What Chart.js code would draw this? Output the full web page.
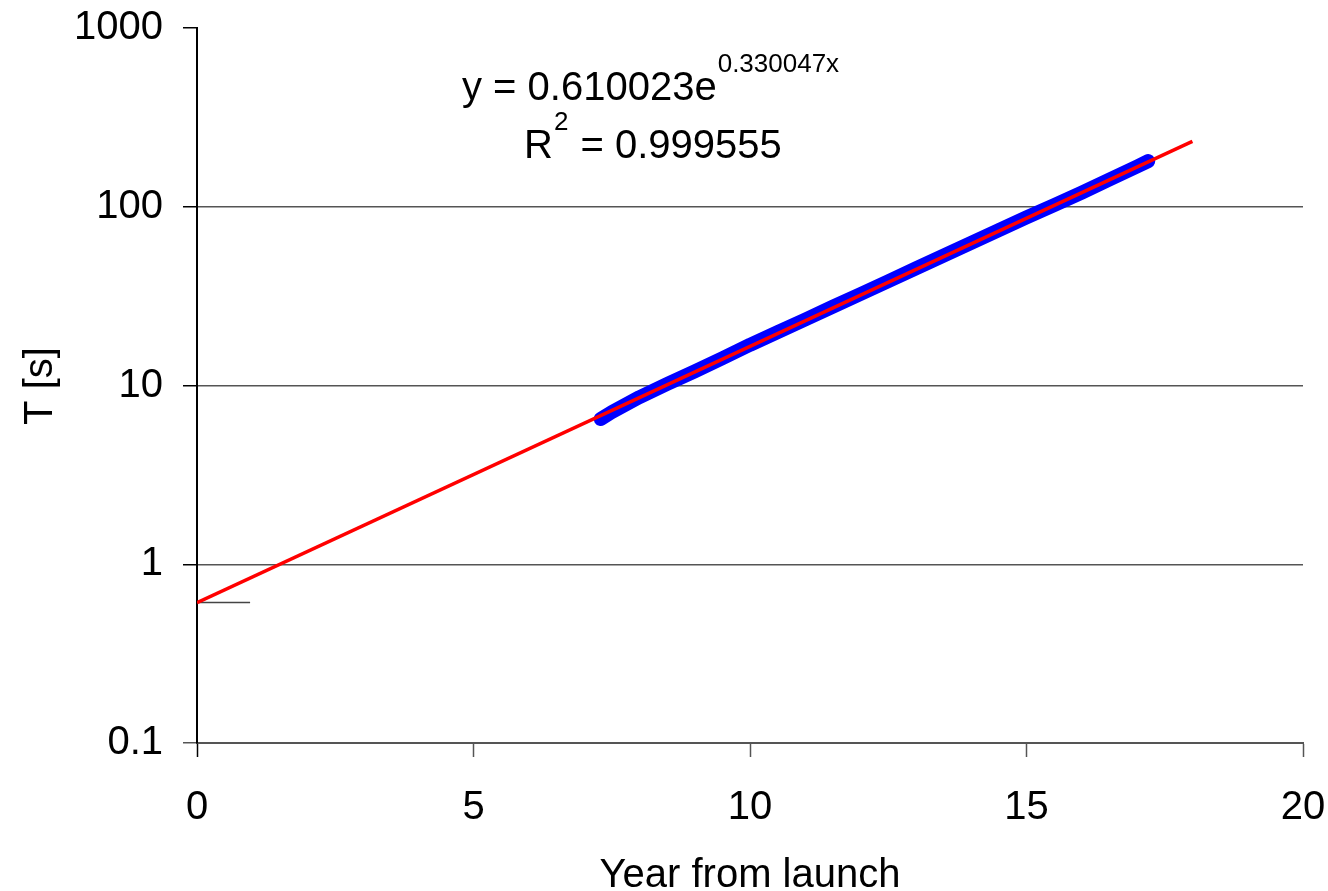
<!DOCTYPE html>
<html>
<head>
<meta charset="utf-8">
<title>T [s]</title>
<script src="https://cdn.jsdelivr.net/npm/chart.js@4/dist/chart.umd.min.js"></script>
<style>
  html, body { margin: 0; padding: 0; background: #fff; }
  #wrap { width: 1328px; height: 891px; }
</style>
</head>
<body>
<div id="wrap"><canvas id="grafico"></canvas></div>
<script>
// dados medidos (ano desde o lançamento, T em segundos)
const anos = [7.3, 7.5, 8.0, 8.5, 9.0, 9.5, 10.0, 10.5, 11.0, 11.5, 12.0, 12.5,
              13.0, 13.5, 14.0, 14.5, 15.0, 15.5, 16.0, 16.5, 17.0, 17.2];
const periodos = [6.5, 7.1, 8.6, 10.2, 12.0, 14.2, 16.9, 19.9, 23.4, 27.6, 32.5, 38.3,
                  45.2, 53.3, 62.8, 74.0, 87.2, 102, 120, 142, 168, 180];

// ajuste exponencial (coeficientes do rótulo)
const coefA = 0.610023;
const coefB = 0.330047;
const ajusteX = [0, 18];

// linha curta no valor de intercepção
const marcaX = [0, 0.96];

const xTicks = [0, 5, 10, 15, 20];
const yTicks = [0.1, 1, 10, 100, 1000];

const fonte = 'Liberation Sans, Arial, sans-serif';

const pontosDados = anos.map((x, i) => ({ x: x, y: periodos[i] }));
const pontosAjuste = ajusteX.map(x => ({ x: x, y: coefA * Math.exp(coefB * x) }));
const pontosMarca = marcaX.map(x => ({ x: x, y: coefA }));

// textos: títulos dos eixos e equação do ajuste
const textos = {
    id: 'textos',
    afterDraw(chart) {
        const ctx = chart.ctx;
        const area = chart.chartArea;
        ctx.save();
        ctx.fillStyle = '#000';

        // título do eixo X
        ctx.font = '40px ' + fonte;
        ctx.textAlign = 'center';
        ctx.textBaseline = 'alphabetic';
        ctx.fillText('Year from launch', (area.left + area.right) / 2, 887);

        // título do eixo Y
        ctx.save();
        ctx.translate(52, 386);
        ctx.rotate(-Math.PI / 2);
        ctx.fillText('T [s]', 0, 0);
        ctx.restore();

        // equação
        ctx.textAlign = 'left';
        ctx.font = '40px ' + fonte;
        const eq = 'y = ' + coefA.toFixed(6) + 'e';
        ctx.fillText(eq, 462, 100);
        const w = ctx.measureText(eq).width;
        ctx.font = '26px ' + fonte;
        ctx.fillText(coefB.toFixed(6) + 'x', 462 + w + 1, 72);

        ctx.font = '40px ' + fonte;
        ctx.fillText('R', 524, 158);
        const wr = ctx.measureText('R').width;
        ctx.font = '26px ' + fonte;
        ctx.fillText('2', 524 + wr + 1, 130);
        const w2 = ctx.measureText('2').width;
        ctx.font = '40px ' + fonte;
        ctx.fillText(' = 0.999555', 524 + wr + w2 + 2, 158);
        ctx.restore();
    }
};

const ctx = document.getElementById('grafico').getContext('2d');
new Chart(ctx, {
    type: 'line',
    data: {
        datasets: [
            {
                label: 'ajuste',
                data: pontosAjuste,
                borderColor: '#ff0000',
                borderWidth: 3.5,
                pointRadius: 0,
                order: 0
            },
            {
                label: 'T',
                data: pontosDados,
                borderColor: '#0000ff',
                backgroundColor: '#0000ff',
                borderWidth: 14,
                borderJoinStyle: 'round',
                borderCapStyle: 'round',
                pointStyle: 'rect',
                pointRadius: 6,
                pointBorderWidth: 0,
                order: 1
            },
            {
                label: 'marca',
                data: pontosMarca,
                borderColor: '#444',
                borderWidth: 1.5,
                pointRadius: 0,
                order: 2
            }
        ]
    },
    options: {
        responsive: true,
        maintainAspectRatio: false,
        animation: false,
        layout: { padding: { top: 28, right: 25, left: 0, bottom: 0 } },
        plugins: {
            legend: { display: false },
            tooltip: { enabled: false }
        },
        scales: {
            x: {
                type: 'linear',
                min: 0,
                max: 20,
                afterFit(scale) {
                    scale.height = 148;
                    scale.paddingLeft = 0;
                    scale.paddingRight = 0;
                },
                afterBuildTicks(scale) { scale.ticks = xTicks.map(v => ({ value: v })); },
                grid: {
                    drawOnChartArea: false,
                    tickLength: 14,
                    tickWidth: 1.5,
                    tickColor: ctx => ctx.tick && ctx.tick.value === 0 ? '#000' : '#555'
                },
                border: { color: '#555', width: 2 },
                ticks: {
                    color: '#000',
                    padding: 27,
                    maxRotation: 0,
                    font: { family: fonte, size: 40 }
                }
            },
            y: {
                type: 'logarithmic',
                min: 0.1,
                max: 1000,
                afterFit(scale) {
                    scale.width = 197;
                    scale.paddingTop = 0;
                    scale.paddingBottom = 0;
                },
                afterBuildTicks(scale) { scale.ticks = yTicks.map(v => ({ value: v })); },
                grid: {
                    tickLength: 14,
                    lineWidth: 1.5,
                    tickWidth: 1.5,
                    color: ctx => ctx.tick && ctx.tick.value === 1000 ? 'rgba(0,0,0,0)' : '#555',
                    tickColor: ctx => ctx.tick && ctx.tick.value === 0.1 ? '#555' : '#000'
                },
                border: { color: '#000', width: 2 },
                ticks: {
                    color: '#000',
                    padding: 20,
                    font: { family: fonte, size: 40 },
                    callback: v => String(v)
                }
            }
        }
    },
    plugins: [textos]
});
</script>
</body>
</html>
